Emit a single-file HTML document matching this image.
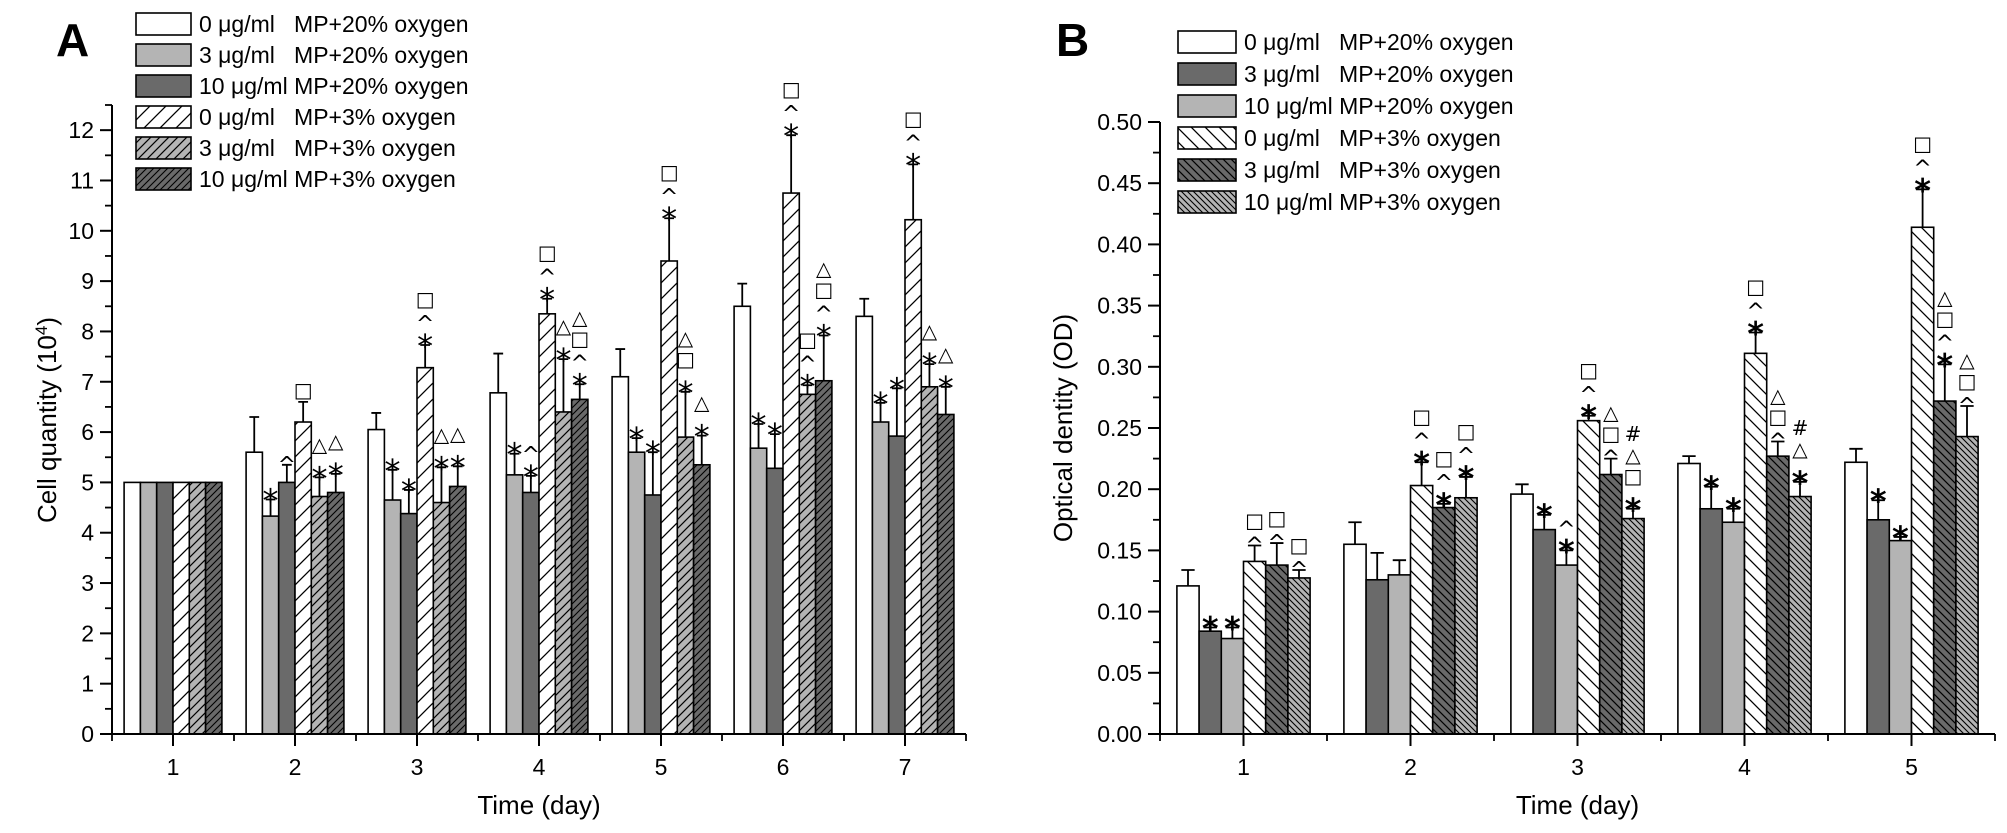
<!DOCTYPE html>
<html><head><meta charset="utf-8">
<style>
html,body{margin:0;padding:0;background:#fff;}
svg{display:block;font-family:"Liberation Sans","DejaVu Sans",sans-serif;}
</style></head>
<body>
<svg id="fig" width="2007" height="833" viewBox="0 0 2007 833" xmlns="http://www.w3.org/2000/svg">
<defs>
 <pattern id="hA0" patternUnits="userSpaceOnUse" width="16" height="16"><rect width="16" height="16" fill="#fff"/><path d="M-4,20 L20,-4 M-4,4 L4,-4 M12,20 L20,12" stroke="#000" stroke-width="1.3"/></pattern>
 <pattern id="hA1" patternUnits="userSpaceOnUse" width="9" height="9"><rect width="9" height="9" fill="#b4b4b4"/><path d="M-2,11 L11,-2 M-2,2 L2,-2 M7,11 L11,7" stroke="#000" stroke-width="1.2"/></pattern>
 <pattern id="hA2" patternUnits="userSpaceOnUse" width="7" height="7"><rect width="7" height="7" fill="#6a6a6a"/><path d="M-2,9 L9,-2 M-2,2 L2,-2 M5,9 L9,5" stroke="#000" stroke-width="1.1"/></pattern>
 <pattern id="hB0" patternUnits="userSpaceOnUse" width="14" height="14"><rect width="14" height="14" fill="#fff"/><path d="M-3,-3 L17,17 M-3,11 L3,17 M11,-3 L17,3" stroke="#000" stroke-width="1.3"/></pattern>
 <pattern id="hB1" patternUnits="userSpaceOnUse" width="8" height="8"><rect width="8" height="8" fill="#6a6a6a"/><path d="M-2,-2 L10,10 M-2,6 L2,10 M6,-2 L10,2" stroke="#000" stroke-width="1.2"/></pattern>
 <pattern id="hB2" patternUnits="userSpaceOnUse" width="6" height="6"><rect width="6" height="6" fill="#b4b4b4"/><path d="M-2,-2 L8,8 M-2,4 L2,8 M4,-2 L8,2" stroke="#000" stroke-width="1.1"/></pattern>
</defs>
<g id="chartA"></g>
<g id="chartB"></g>
</svg>
<script>
// ---------- Chart A data ----------
const daysA = ["1","2","3","4","5","6","7"];
const seriesNamesA = ["0 μg/ml   MP+20% oxygen","3 μg/ml   MP+20% oxygen","10 μg/ml MP+20% oxygen","0 μg/ml   MP+3% oxygen","3 μg/ml   MP+3% oxygen","10 μg/ml MP+3% oxygen"];
const a_s0 = [5, 5.6, 6.05, 6.78, 7.1, 8.5, 8.3];
const a_s1 = [5, 4.33, 4.65, 5.15, 5.6, 5.68, 6.2];
const a_s2 = [5, 5.0, 4.38, 4.8, 4.75, 5.28, 5.92];
const a_s3 = [5, 6.2, 7.28, 8.35, 9.4, 10.75, 10.22];
const a_s4 = [5, 4.72, 4.6, 6.4, 5.9, 6.75, 6.9];
const a_s5 = [5, 4.8, 4.92, 6.65, 5.35, 7.02, 6.35];
const a_e0 = [0, 0.7, 0.33, 0.78, 0.55, 0.45, 0.35];
const a_e1 = [0, 0.33, 0.6, 0.42, 0.28, 0.48, 0.38];
const a_e2 = [0, 0.35, 0.47, 0.33, 0.85, 0.68, 0.95];
const a_e3 = [0, 0.4, 0.45, 0.3, 0.85, 1.15, 1.1];
const a_e4 = [0, 0.38, 0.7, 1.05, 0.9, 0.18, 0.45];
const a_e5 = [0, 0.37, 0.4, 0.3, 0.58, 0.9, 0.55];
const a_marks = [
 ["","","","","",""],
 ["","*","^","□","*△","*△"],
 ["","*","*","*^□","*△","*△"],
 ["","*","*^","*^□","*△","*^□△"],
 ["","*","*","*^□","*□△","*△"],
 ["","*","*","*^□","*^□","*^□△"],
 ["","*","*","*^□","*△","*△"]];
const yTicksA = [0,1,2,3,4,5,6,7,8,9,10,11,12];
// ---------- Chart B data ----------
const daysB = ["1","2","3","4","5"];
const seriesNamesB = seriesNamesA;
const b_s0 = [0.121, 0.155, 0.196, 0.221, 0.222];
const b_s1 = [0.084, 0.126, 0.167, 0.184, 0.175];
const b_s2 = [0.078, 0.130, 0.138, 0.173, 0.158];
const b_s3 = [0.141, 0.203, 0.256, 0.311, 0.414];
const b_s4 = [0.138, 0.185, 0.212, 0.227, 0.272];
const b_s5 = [0.1275, 0.193, 0.176, 0.194, 0.243];
const b_e0 = [0.013, 0.018, 0.008, 0.006, 0.011];
const b_e1 = [0.003, 0.022, 0.012, 0.018, 0.016];
const b_e2 = [0.009, 0.012, 0.012, 0.011, 0.003];
const b_e3 = [0.013, 0.019, 0.004, 0.017, 0.031];
const b_e4 = [0.018, 0.003, 0.013, 0.012, 0.030];
const b_e5 = [0.0065, 0.017, 0.008, 0.012, 0.025];
const b_marks = [
 ["","*","*","^□","^□","^□"],
 ["","","","*^□","*^□","*^□"],
 ["","*","*^","*^□","^□△","*□△#"],
 ["","*","*","*^□","^□△","*△#"],
 ["","*","*","*^□","*^□△","^□△"]];
const yTicksB = [0,0.05,0.10,0.15,0.20,0.25,0.30,0.35,0.40,0.45,0.50];

const NS="http://www.w3.org/2000/svg";
function mk(parent,tag,attrs,text){const e=document.createElementNS(NS,tag);for(const k in attrs)e.setAttribute(k,attrs[k]);if(text!==undefined)e.textContent=text;parent.appendChild(e);return e;}

function drawChart(cfg){
 const g=document.getElementById(cfg.id);
 const {x0,x1,y0,yTop,vmax,days,series,errs,marks,fills,ticks,minorStep,fmt,bw}=cfg;
 const n=days.length;
 const step=(x1-x0)/n;
 const xc=i=>x0+step*(i+0.5);
 const ys=v=>y0-(v/vmax)*(y0-yTop);
 for(let d=0;d<n;d++){
  for(let s=0;s<series.length;s++){
   const v=series[s][d];
   const bx=xc(d)-3*bw+s*bw;
   const r=mk(g,'rect',{x:bx,y:ys(v),width:bw,height:y0-ys(v),fill:fills[s],stroke:'#000','stroke-width':1.6});
   
   
   const e=errs[s][d];
   let top=ys(v);
   if(e>0){
    const cx=bx+bw/2, et=ys(v+e);
    const p=mk(g,'path',{d:`M${cx},${ys(v)} L${cx},${et} M${cx-bw*0.3},${et} L${cx+bw*0.3},${et}`,stroke:'#000','stroke-width':1.8,fill:'none'});
    
    
    top=et;
   }
   const m=marks[d][s];
   let yy=top-5;
   for(const ch of m){
    const sz=(ch==='*')?32:(ch==='^'?22:20);
    const ty=(ch==='*')?yy+17:(ch==='^'?yy+12:yy);
    const t=mk(g,'text',{x:bx+bw/2,y:ty,'text-anchor':'middle','font-size':sz,'font-family':'"DejaVu Sans",sans-serif','font-weight':(ch==='*'&&cfg.tag==='b')?'bold':'normal',fill:'#000'},ch);
    
    
    yy-= (ch==='*')?21:(ch==='^'?13:21);
   }
  }
 }
 const ax=mk(g,'path',{d:`M${x0},${yTop} L${x0},${y0} L${x1},${y0}`,stroke:'#000','stroke-width':2,fill:'none'});
 
 
 for(const tv of ticks){
  const y=ys(tv);
  mk(g,'line',{x1:x0-12,y1:y,x2:x0,y2:y,stroke:'#000','stroke-width':2});
  const t=mk(g,'text',{x:x0-18,y:y+8,'text-anchor':'end','font-size':23,fill:'#000'},fmt(tv));
  
  
  if(tv+minorStep<=vmax+1e-9){const ym=ys(tv+minorStep);mk(g,'line',{x1:x0-7,y1:ym,x2:x0,y2:ym,stroke:'#000','stroke-width':1.8});}
 }
 for(let d=0;d<n;d++){
  mk(g,'line',{x1:xc(d),y1:y0,x2:xc(d),y2:y0+12,stroke:'#000','stroke-width':2});
  mk(g,'line',{x1:x0+step*d,y1:y0,x2:x0+step*d,y2:y0+7,stroke:'#000','stroke-width':1.8});
  const t=mk(g,'text',{x:xc(d),y:y0+41,'text-anchor':'middle','font-size':23,fill:'#000'},days[d]);
  
  
 }
 mk(g,'line',{x1:x1,y1:y0,x2:x1,y2:y0+7,stroke:'#000','stroke-width':1.8});
 const xt=mk(g,'text',{x:(x0+x1)/2,y:y0+80,'text-anchor':'middle','font-size':26,fill:'#000'},'Time (day)');
 
 
 for(let s=0;s<6;s++){
  const ly=cfg.legY+s*cfg.legDy;
  const r=mk(g,'rect',{x:cfg.legX,y:ly-11,width:cfg.legW,height:22,fill:fills[s],stroke:'#000','stroke-width':1.6});
  
  
  const t=mk(g,'text',{x:cfg.legX+cfg.legW+8,y:ly+8,'font-size':23,fill:'#000','xml:space':'preserve'},cfg.names[s]);
  t.style.whiteSpace='pre';
  
  
 }
}

drawChart({id:'chartA',tag:'a',x0:112,x1:966,y0:734,yTop:105,vmax:12.5,days:daysA,
 series:[a_s0,a_s1,a_s2,a_s3,a_s4,a_s5],errs:[a_e0,a_e1,a_e2,a_e3,a_e4,a_e5],marks:a_marks,
 fills:['#fff','#b4b4b4','#6a6a6a','url(#hA0)','url(#hA1)','url(#hA2)'],ticks:yTicksA,minorStep:0.5,
 fmt:v=>String(v),bw:16.3,legX:136,legY:24,legDy:31,legW:55,names:seriesNamesA});
drawChart({id:'chartB',tag:'b',x0:1160,x1:1995,y0:734,yTop:122,vmax:0.5,days:daysB,
 series:[b_s0,b_s1,b_s2,b_s3,b_s4,b_s5],errs:[b_e0,b_e1,b_e2,b_e3,b_e4,b_e5],marks:b_marks,
 fills:['#fff','#6a6a6a','#b4b4b4','url(#hB0)','url(#hB1)','url(#hB2)'],ticks:yTicksB,minorStep:0.025,
 fmt:v=>v.toFixed(2),bw:22.2,legX:1178,legY:42,legDy:32,legW:58,names:seriesNamesB});
</script>
<script>
const fig=document.getElementById('fig');
function addText(x,y,txt,attrs,name){const t=document.createElementNS(NS,'text');t.setAttribute('x',x);t.setAttribute('y',y);for(const k in attrs)t.setAttribute(k,attrs[k]);t.textContent=txt;


fig.appendChild(t);return t;}
addText(56,56,'A',{'font-size':46,'font-weight':'bold','font-family':'"Liberation Sans Narrow","Liberation Sans",sans-serif'},'panel-label-a');
addText(1056,56,'B',{'font-size':46,'font-weight':'bold','font-family':'"Liberation Sans Narrow","Liberation Sans",sans-serif'},'panel-label-b');
const ya=addText(0,0,'',{'font-size':26,'text-anchor':'middle','transform':'translate(56,420) rotate(-90)'},'y-axis-title-a');
ya.innerHTML='Cell quantity (10<tspan dy="-9" font-size="17">4</tspan><tspan dy="9">)</tspan>';
addText(0,0,'Optical dentity (OD)',{'font-size':26,'text-anchor':'middle','transform':'translate(1072,428) rotate(-90)'},'y-axis-title-b');
</script>
</body></html>
